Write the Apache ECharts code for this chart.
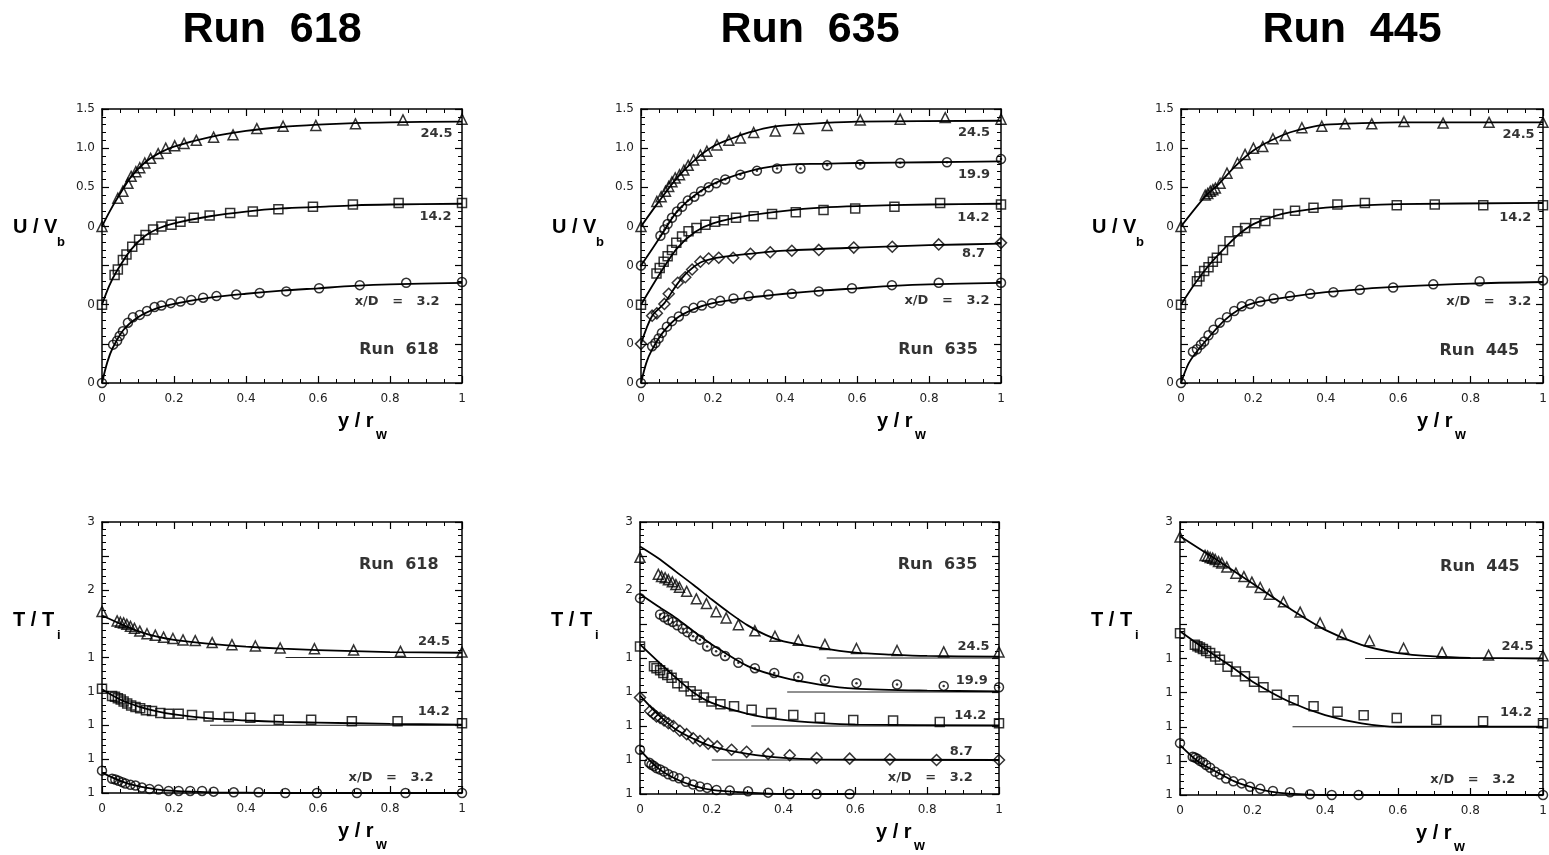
<!DOCTYPE html>
<html>
<head>
<meta charset="utf-8">
<script src="https://cdn.jsdelivr.net/npm/echarts/dist/echarts.min.js"></script>
<style>
  html, body { margin: 0; padding: 0; background: #fff; }
  #chart { width: 1549px; height: 855px; }
</style>
</head>
<body>
<div id="chart"></div>
<script>
/* Perfiles de velocidad (U/Vb) y temperatura (T/Ti) para las corridas 618, 635 y 445 */

// Etiquetas de ejes
const xTickLabels = ['0', '0.2', '0.4', '0.6', '0.8', '1'];
const uTickLabels3 = ['0', '', '0', '', '0', '0.5', '1.0', '1.5'];
const uTickLabels5 = ['0', '0', '0', '0', '0', '0.5', '1.0', '1.5'];
const tTickLabels = ['1', '1', '1', '1', '1', '', '2', '', '3'];

// Estaciones x/D y desplazamiento vertical de cada perfil
const stations3 = ['3.2', '14.2', '24.5'];
const stations5 = ['3.2', '8.7', '14.2', '19.9', '24.5'];
const offsets3 = [0, 1, 2];
const offsets5 = [0, 0.5, 1, 1.5, 2];

// Inicio (y/rw) de la linea de referencia T/Ti = 1
const tBase618 = [null, 0.3, 0.51];
const tBase635 = [null, 0.2, 0.31, 0.41, 0.52];
const tBase445 = [null, 0.31, 0.51];

// ---- Run 618, U/Vb ----
const r618U_32 = [[0,0],[0.031,0.49],[0.042,0.54],[0.049,0.60],[0.058,0.66],[0.072,0.77],[0.086,0.84],[0.105,0.87],[0.125,0.92],[0.146,0.97],[0.165,0.99],[0.191,1.02],[0.218,1.04],[0.248,1.06],[0.281,1.09],[0.318,1.11],[0.373,1.13],[0.438,1.15],[0.512,1.17],[0.603,1.21],[0.716,1.25],[0.845,1.28],[1.0,1.29]];
const r618U_32fit = [[0,0],[0.015,0.27],[0.03,0.45],[0.06,0.68],[0.1,0.84],[0.15,0.95],[0.2,1.01],[0.3,1.09],[0.4,1.14],[0.5,1.18],[0.6,1.21],[0.7,1.24],[0.8,1.26],[1.0,1.28]];
const r618U_142 = [[0,0],[0.035,0.38],[0.044,0.45],[0.058,0.57],[0.068,0.64],[0.084,0.74],[0.103,0.83],[0.121,0.89],[0.142,0.96],[0.165,1.00],[0.193,1.02],[0.218,1.06],[0.255,1.11],[0.299,1.14],[0.356,1.17],[0.419,1.19],[0.49,1.22],[0.586,1.25],[0.697,1.28],[0.824,1.30],[1.0,1.30]];
const r618U_142fit = [[0,0],[0.02,0.24],[0.04,0.42],[0.08,0.70],[0.12,0.88],[0.16,0.98],[0.2,1.04],[0.3,1.13],[0.4,1.19],[0.5,1.23],[0.6,1.25],[0.7,1.27],[0.8,1.28],[1.0,1.29]];
const r618U_245 = [[0,0],[0.044,0.36],[0.058,0.45],[0.072,0.55],[0.081,0.64],[0.094,0.70],[0.105,0.75],[0.119,0.81],[0.135,0.87],[0.156,0.93],[0.177,1.00],[0.202,1.03],[0.228,1.06],[0.262,1.10],[0.31,1.14],[0.364,1.17],[0.43,1.25],[0.503,1.28],[0.594,1.29],[0.704,1.31],[0.836,1.36],[1.0,1.37]];
const r618U_245fit = [[0,0],[0.02,0.18],[0.04,0.34],[0.08,0.63],[0.12,0.82],[0.16,0.94],[0.2,1.02],[0.3,1.14],[0.4,1.22],[0.5,1.27],[0.6,1.30],[0.7,1.32],[0.8,1.33],[1.0,1.34]];

// ---- Run 635, U/Vb ----
const r635U_32 = [[0,0],[0.031,0.47],[0.04,0.51],[0.049,0.57],[0.058,0.64],[0.072,0.72],[0.086,0.79],[0.105,0.85],[0.123,0.92],[0.146,0.96],[0.169,0.99],[0.197,1.02],[0.22,1.05],[0.257,1.08],[0.299,1.11],[0.354,1.13],[0.419,1.14],[0.494,1.17],[0.586,1.21],[0.697,1.25],[0.827,1.28],[1.0,1.28]];
const r635U_32fit = [[0,0],[0.015,0.26],[0.03,0.42],[0.06,0.64],[0.1,0.83],[0.15,0.95],[0.2,1.02],[0.3,1.09],[0.4,1.14],[0.5,1.18],[0.6,1.21],[0.7,1.24],[0.8,1.26],[1.0,1.28]];
const r635U_87 = [[0,0],[0.031,0.36],[0.044,0.39],[0.065,0.51],[0.077,0.64],[0.102,0.78],[0.123,0.85],[0.142,0.95],[0.165,1.05],[0.188,1.09],[0.216,1.10],[0.256,1.10],[0.304,1.15],[0.359,1.17],[0.419,1.19],[0.494,1.20],[0.591,1.23],[0.698,1.24],[0.827,1.27],[1.0,1.29]];
const r635U_87fit = [[0,0],[0.03,0.35],[0.065,0.52],[0.1,0.76],[0.13,0.92],[0.165,1.04],[0.2,1.09],[0.26,1.13],[0.3,1.15],[0.4,1.19],[0.6,1.23],[0.8,1.26],[1.0,1.28]];
const r635U_142 = [[0,0],[0.043,0.40],[0.052,0.47],[0.063,0.55],[0.074,0.62],[0.086,0.70],[0.098,0.79],[0.114,0.87],[0.132,0.94],[0.154,0.98],[0.179,1.02],[0.206,1.06],[0.23,1.08],[0.264,1.11],[0.313,1.13],[0.364,1.16],[0.43,1.18],[0.507,1.21],[0.595,1.23],[0.704,1.25],[0.831,1.30],[1.0,1.28]];
const r635U_142fit = [[0,0],[0.05,0.38],[0.1,0.72],[0.15,0.93],[0.2,1.04],[0.3,1.14],[0.4,1.20],[0.5,1.24],[0.6,1.26],[0.8,1.28],[1.0,1.29]];
const r635U_199 = [[0,0],[0.054,0.38],[0.065,0.46],[0.074,0.53],[0.086,0.61],[0.1,0.69],[0.114,0.75],[0.13,0.83],[0.148,0.88],[0.167,0.95],[0.188,1.00],[0.209,1.05],[0.234,1.10],[0.276,1.16],[0.322,1.21],[0.378,1.24],[0.443,1.24],[0.517,1.28],[0.609,1.29],[0.72,1.31],[0.85,1.32],[1.0,1.36]];
const r635U_199fit = [[0,0],[0.054,0.37],[0.1,0.69],[0.165,0.95],[0.23,1.10],[0.32,1.23],[0.41,1.29],[0.5,1.30],[0.6,1.31],[0.8,1.32],[1.0,1.33]];
const r635U_245 = [[0,0],[0.044,0.32],[0.056,0.38],[0.068,0.45],[0.077,0.51],[0.086,0.57],[0.095,0.62],[0.107,0.66],[0.119,0.72],[0.131,0.78],[0.146,0.85],[0.165,0.91],[0.183,0.96],[0.211,1.04],[0.244,1.10],[0.276,1.13],[0.313,1.20],[0.373,1.22],[0.438,1.25],[0.517,1.29],[0.609,1.36],[0.72,1.37],[0.845,1.39],[1.0,1.37]];
const r635U_245fit = [[0,0],[0.05,0.32],[0.1,0.62],[0.15,0.85],[0.2,1.02],[0.25,1.12],[0.3,1.20],[0.35,1.26],[0.4,1.29],[0.5,1.32],[0.6,1.34],[1.0,1.35]];

// ---- Run 445, U/Vb ----
const r445U_32 = [[0,0],[0.033,0.40],[0.044,0.43],[0.055,0.49],[0.064,0.53],[0.076,0.61],[0.09,0.68],[0.107,0.77],[0.127,0.84],[0.147,0.92],[0.168,0.98],[0.191,1.01],[0.219,1.04],[0.256,1.08],[0.301,1.11],[0.357,1.14],[0.421,1.16],[0.494,1.19],[0.586,1.22],[0.697,1.26],[0.825,1.30],[1.0,1.31]];
const r445U_32fit = [[0,0],[0.02,0.24],[0.04,0.38],[0.08,0.60],[0.12,0.80],[0.16,0.94],[0.2,1.02],[0.3,1.10],[0.4,1.16],[0.5,1.20],[0.6,1.23],[0.8,1.27],[1.0,1.29]];
const r445U_142 = [[0,0],[0.044,0.30],[0.051,0.36],[0.064,0.43],[0.076,0.48],[0.088,0.55],[0.099,0.60],[0.116,0.70],[0.134,0.81],[0.156,0.94],[0.177,0.98],[0.205,1.04],[0.233,1.07],[0.269,1.16],[0.315,1.20],[0.366,1.24],[0.432,1.28],[0.508,1.30],[0.596,1.27],[0.701,1.28],[0.835,1.27],[1.0,1.27]];
const r445U_142fit = [[0,0],[0.04,0.28],[0.08,0.52],[0.12,0.72],[0.16,0.90],[0.2,1.03],[0.25,1.12],[0.3,1.18],[0.4,1.24],[0.5,1.27],[0.6,1.285],[1.0,1.30]];
const r445U_245 = [[0,0],[0.067,0.40],[0.074,0.42],[0.081,0.45],[0.088,0.47],[0.095,0.49],[0.108,0.55],[0.127,0.68],[0.156,0.81],[0.177,0.92],[0.2,1.00],[0.226,1.02],[0.254,1.12],[0.288,1.16],[0.334,1.26],[0.389,1.28],[0.453,1.31],[0.527,1.31],[0.616,1.34],[0.724,1.32],[0.851,1.33],[1.0,1.33]];
const r445U_245fit = [[0,0],[0.07,0.40],[0.1,0.52],[0.15,0.77],[0.2,0.97],[0.25,1.10],[0.3,1.20],[0.35,1.26],[0.4,1.30],[0.5,1.32],[0.6,1.33],[1.0,1.33]];

// ---- Run 618, T/Ti ----
const r618T_32 = [[0,1.33],[0.028,1.21],[0.037,1.20],[0.046,1.18],[0.056,1.16],[0.065,1.14],[0.079,1.12],[0.093,1.11],[0.111,1.08],[0.132,1.06],[0.157,1.05],[0.185,1.03],[0.213,1.03],[0.245,1.03],[0.278,1.03],[0.31,1.02],[0.366,1.01],[0.435,1.01],[0.509,1.0],[0.597,1.0],[0.708,1.0],[0.843,1.0],[1.0,1.0]];
const r618T_32fit = [[0,1.30],[0.05,1.18],[0.1,1.10],[0.15,1.055],[0.2,1.03],[0.3,1.01],[0.4,1.005],[0.5,1.0],[1.0,1.0]];
const r618T_142 = [[0,1.54],[0.028,1.43],[0.036,1.42],[0.044,1.40],[0.052,1.38],[0.06,1.35],[0.07,1.32],[0.081,1.29],[0.093,1.27],[0.106,1.25],[0.122,1.22],[0.139,1.21],[0.162,1.18],[0.185,1.17],[0.213,1.17],[0.25,1.15],[0.296,1.13],[0.352,1.12],[0.412,1.11],[0.491,1.08],[0.581,1.08],[0.694,1.06],[0.821,1.06],[1.0,1.03]];
const r618T_142fit = [[0,1.53],[0.05,1.38],[0.1,1.28],[0.15,1.21],[0.2,1.16],[0.3,1.10],[0.4,1.07],[0.5,1.05],[0.6,1.04],[0.8,1.02],[1.0,1.01]];
const r618T_245 = [[0,1.68],[0.042,1.54],[0.051,1.52],[0.06,1.51],[0.069,1.49],[0.079,1.46],[0.09,1.43],[0.105,1.39],[0.125,1.35],[0.148,1.33],[0.171,1.30],[0.197,1.28],[0.225,1.26],[0.259,1.25],[0.306,1.22],[0.361,1.19],[0.426,1.17],[0.495,1.14],[0.59,1.13],[0.699,1.11],[0.829,1.09],[1.0,1.08]];
const r618T_245fit = [[0,1.62],[0.05,1.50],[0.1,1.39],[0.15,1.31],[0.2,1.26],[0.3,1.20],[0.4,1.16],[0.5,1.13],[0.6,1.11],[0.8,1.08],[1.0,1.07]];

// ---- Run 635, T/Ti ----
const r635T_32 = [[0,1.65],[0.026,1.46],[0.032,1.43],[0.039,1.41],[0.046,1.38],[0.056,1.36],[0.067,1.33],[0.079,1.29],[0.093,1.26],[0.109,1.23],[0.128,1.18],[0.148,1.14],[0.167,1.11],[0.187,1.09],[0.213,1.06],[0.25,1.05],[0.301,1.04],[0.357,1.02],[0.417,1.0],[0.492,1.0],[0.584,1.0]];
const r635T_32fit = [[0,1.65],[0.05,1.38],[0.1,1.22],[0.15,1.12],[0.2,1.06],[0.3,1.02],[0.4,1.0],[0.6,1.0]];
const r635T_87 = [[0,1.92],[0.028,1.72],[0.037,1.68],[0.046,1.64],[0.056,1.62],[0.067,1.58],[0.079,1.54],[0.093,1.50],[0.111,1.43],[0.13,1.38],[0.148,1.32],[0.167,1.28],[0.19,1.24],[0.215,1.20],[0.255,1.15],[0.297,1.12],[0.357,1.09],[0.417,1.07],[0.492,1.03],[0.584,1.02],[0.696,1.01],[0.826,1.0],[1.0,1.0]];
const r635T_87fit = [[0,1.95],[0.05,1.67],[0.1,1.45],[0.15,1.31],[0.2,1.20],[0.3,1.09],[0.4,1.03],[0.5,1.01],[1.0,1.0]];
const r635T_142 = [[0,2.17],[0.039,1.88],[0.046,1.85],[0.056,1.82],[0.065,1.78],[0.076,1.75],[0.088,1.71],[0.104,1.63],[0.122,1.58],[0.141,1.51],[0.158,1.46],[0.178,1.42],[0.199,1.36],[0.224,1.32],[0.262,1.29],[0.311,1.24],[0.366,1.19],[0.427,1.16],[0.501,1.12],[0.594,1.09],[0.705,1.08],[0.835,1.06],[1.0,1.04]];
const r635T_142fit = [[0,2.2],[0.05,1.95],[0.1,1.71],[0.15,1.49],[0.2,1.34],[0.3,1.18],[0.4,1.09],[0.5,1.045],[0.6,1.02],[1.0,1.01]];
const r635T_199 = [[0,2.38],[0.056,2.14],[0.067,2.10],[0.079,2.06],[0.091,2.03],[0.104,1.98],[0.119,1.93],[0.132,1.88],[0.148,1.82],[0.167,1.77],[0.187,1.67],[0.212,1.60],[0.237,1.53],[0.274,1.43],[0.32,1.35],[0.374,1.28],[0.441,1.22],[0.515,1.18],[0.603,1.13],[0.716,1.11],[0.846,1.09],[1.0,1.07]];
const r635T_199fit = [[0,2.44],[0.05,2.26],[0.1,2.09],[0.15,1.89],[0.2,1.70],[0.3,1.38],[0.4,1.21],[0.5,1.11],[0.6,1.05],[0.8,1.02],[1.0,1.01]];
const r635T_245 = [[0,2.48],[0.051,2.23],[0.06,2.20],[0.07,2.18],[0.079,2.15],[0.09,2.12],[0.1,2.08],[0.11,2.04],[0.13,1.98],[0.157,1.87],[0.185,1.80],[0.212,1.68],[0.24,1.59],[0.274,1.49],[0.32,1.40],[0.376,1.32],[0.441,1.26],[0.515,1.20],[0.603,1.14],[0.716,1.11],[0.846,1.09],[1.0,1.09]];
const r635T_245fit = [[0,2.64],[0.05,2.47],[0.1,2.27],[0.15,2.07],[0.2,1.86],[0.25,1.66],[0.3,1.48],[0.35,1.34],[0.4,1.245],[0.5,1.15],[0.6,1.08],[0.7,1.05],[0.8,1.03],[1.0,1.02]];

// ---- Run 445, T/Ti ----
const r445T_32 = [[0,1.76],[0.035,1.56],[0.041,1.55],[0.048,1.53],[0.055,1.50],[0.063,1.48],[0.072,1.44],[0.083,1.40],[0.097,1.34],[0.11,1.30],[0.127,1.24],[0.147,1.20],[0.17,1.17],[0.193,1.12],[0.221,1.09],[0.256,1.06],[0.303,1.04],[0.358,1.01],[0.418,1.0],[0.492,1.0],[1.0,1.0]];
const r445T_32fit = [[0,1.73],[0.05,1.49],[0.1,1.34],[0.15,1.20],[0.2,1.11],[0.25,1.05],[0.3,1.02],[0.4,1.0],[1.0,1.0]];
const r445T_142 = [[0,2.37],[0.041,2.20],[0.048,2.18],[0.055,2.16],[0.063,2.14],[0.072,2.11],[0.083,2.08],[0.097,2.03],[0.11,1.98],[0.131,1.88],[0.154,1.81],[0.179,1.74],[0.204,1.66],[0.23,1.58],[0.267,1.47],[0.313,1.39],[0.368,1.30],[0.434,1.22],[0.506,1.17],[0.597,1.13],[0.706,1.10],[0.835,1.08],[1.0,1.05]];
const r445T_142fit = [[0,2.40],[0.05,2.21],[0.1,2.03],[0.15,1.85],[0.2,1.66],[0.3,1.37],[0.4,1.17],[0.5,1.05],[0.6,1.0],[1.0,1.0]];
const r445T_245 = [[0,2.78],[0.069,2.51],[0.076,2.50],[0.083,2.48],[0.09,2.47],[0.097,2.45],[0.106,2.42],[0.115,2.40],[0.129,2.34],[0.154,2.25],[0.176,2.20],[0.198,2.12],[0.221,2.04],[0.246,1.94],[0.285,1.83],[0.331,1.68],[0.386,1.52],[0.446,1.35],[0.522,1.26],[0.616,1.15],[0.722,1.09],[0.85,1.05],[1.0,1.04]];
const r445T_245fit = [[0,2.79],[0.1,2.45],[0.2,2.10],[0.3,1.74],[0.4,1.42],[0.5,1.20],[0.6,1.08],[0.7,1.03],[0.8,1.01],[1.0,1.0]];

// Simbolos por estacion
const markers = {
    '3.2':  { symbol: 'circle', size: 9 },
    '8.7':  { symbol: 'diamond', size: 11 },
    '14.2': { symbol: 'rect', size: 9 },
    '19.9': { symbol: 'circle', size: 9, dot: true },
    '24.5': { symbol: 'triangle', size: 10 }
};

// Paneles: caja de la grilla [left, top, width, height] y anotaciones [texto, x, y]
const panels = [
    { box: [102, 109, 360, 274], kind: 'U', run: '618', stations: stations3, offsets: offsets3, ticks: uTickLabels3,
      pts: [r618U_32, r618U_142, r618U_245], fits: [r618U_32fit, r618U_142fit, r618U_245fit],
      notes: [['24.5', 0.974, 3.19], ['14.2', 0.971, 2.12], ['x/D   =   3.2', 0.938, 1.04]], runAt: [0.936, 0.425] },
    { box: [641, 109, 360, 274], kind: 'U', run: '635', stations: stations5, offsets: offsets5, ticks: uTickLabels5,
      pts: [r635U_32, r635U_87, r635U_142, r635U_199, r635U_245], fits: [r635U_32fit, r635U_87fit, r635U_142fit, r635U_199fit, r635U_245fit],
      notes: [['24.5', 0.97, 3.196], ['19.9', 0.97, 2.657], ['14.2', 0.968, 2.112], ['8.7', 0.956, 1.658], ['x/D   =   3.2', 0.968, 1.05]], runAt: [0.936, 0.425] },
    { box: [1181, 109, 362, 274], kind: 'U', run: '445', stations: stations3, offsets: offsets3, ticks: uTickLabels3,
      pts: [r445U_32, r445U_142, r445U_245], fits: [r445U_32fit, r445U_142fit, r445U_245fit],
      notes: [['24.5', 0.977, 3.176], ['14.2', 0.968, 2.112], ['x/D   =   3.2', 0.968, 1.04]], runAt: [0.934, 0.412] },
    { box: [102, 522, 360, 271], kind: 'T', run: '618', stations: stations3, offsets: offsets3, ticks: tTickLabels, base: tBase618,
      pts: [r618T_32, r618T_142, r618T_245], fits: [r618T_32fit, r618T_142fit, r618T_245fit],
      notes: [['24.5', 0.967, 2.24], ['14.2', 0.966, 1.20], ['x/D   =   3.2', 0.921, 0.22]], runAt: [0.935, 3.37] },
    { box: [640, 522, 359, 272], kind: 'T', run: '635', stations: stations5, offsets: offsets5, ticks: tTickLabels, base: tBase635,
      pts: [r635T_32, r635T_87, r635T_142, r635T_199, r635T_245], fits: [r635T_32fit, r635T_87fit, r635T_142fit, r635T_199fit, r635T_245fit],
      notes: [['24.5', 0.974, 2.17], ['19.9', 0.969, 1.67], ['14.2', 0.965, 1.156], ['8.7', 0.927, 0.626], ['x/D   =   3.2', 0.927, 0.235]], runAt: [0.94, 3.37] },
    { box: [1180, 522, 363, 273], kind: 'T', run: '445', stations: stations3, offsets: offsets3, ticks: tTickLabels, base: tBase445,
      pts: [r445T_32, r445T_142, r445T_245], fits: [r445T_32fit, r445T_142fit, r445T_245fit],
      notes: [['24.5', 0.974, 2.17], ['14.2', 0.97, 1.2], ['x/D   =   3.2', 0.924, 0.22]], runAt: [0.936, 3.35] }
];

const black = '#000';
const tickFont = { fontFamily: 'DejaVu Sans', fontSize: 12, color: '#222' };

// Posicion en el eje: U/Vb + desplazamiento, o T/Ti - 1 + desplazamiento
function shift(kind, v, off) {
    return kind === 'U' ? v + off : v - 1 + off;
}

function xAxisCfg(g, position) {
    const main = position === 'bottom';
    return {
        gridIndex: g, type: 'value', position: position, min: 0, max: 1, interval: 0.2,
        axisLine: { show: true, onZero: false, lineStyle: { color: black, width: 1.5 } },
        axisTick: { show: true, inside: true, length: 7, lineStyle: { color: black, width: 1.2 } },
        minorTick: { show: true, splitNumber: 4, length: 4, lineStyle: { color: black, width: 1 } },
        splitLine: { show: false },
        axisLabel: {
            show: main, margin: 10, showMinLabel: true, showMaxLabel: true, ...tickFont,
            formatter: v => xTickLabels[Math.round(v / 0.2)]
        }
    };
}

function yAxisCfg(g, position, p) {
    const main = position === 'left';
    return {
        gridIndex: g, type: 'value', position: position, min: 0, max: p.kind === 'U' ? 3.5 : 4, interval: 0.5,
        axisLine: { show: true, onZero: false, lineStyle: { color: black, width: 1.5 } },
        axisTick: { show: true, inside: true, length: 7, lineStyle: { color: black, width: 1.2 } },
        minorTick: { show: true, splitNumber: 5, length: 4, lineStyle: { color: black, width: 1 } },
        splitLine: { show: false },
        axisLabel: {
            show: main, margin: 7, showMinLabel: true, showMaxLabel: true, ...tickFont,
            formatter: v => p.ticks[Math.round(v / 0.5)] || ''
        }
    };
}

const option = {
    animation: false,
    backgroundColor: '#fff',
    grid: [], xAxis: [], yAxis: [], series: [], graphic: []
};

// Ejes: principales en indices 0..5, espejos (arriba / derecha) en 6..11
panels.forEach((p, g) => {
    option.grid.push({ left: p.box[0], top: p.box[1], width: p.box[2], height: p.box[3], outerBoundsMode: 'none' });
    option.xAxis[g] = xAxisCfg(g, 'bottom');
    option.xAxis[g + 6] = xAxisCfg(g, 'top');
    option.yAxis[g] = yAxisCfg(g, 'left', p);
    option.yAxis[g + 6] = yAxisCfg(g, 'right', p);
});

panels.forEach((p, g) => {
    p.stations.forEach((st, i) => {
        const off = p.offsets[i];
        const mk = markers[st];

        // Linea de referencia T/Ti = 1
        if (p.base && p.base[i] != null) {
            option.series.push({
                type: 'line', xAxisIndex: g, yAxisIndex: g, silent: true, symbol: 'none',
                data: [[p.base[i], off], [1, off]],
                lineStyle: { color: '#222', width: 1 }, z: 1
            });
        }

        // Curva calculada
        option.series.push({
            type: 'line', xAxisIndex: g, yAxisIndex: g, silent: true, symbol: 'none',
            smooth: 0.3,
            data: p.fits[i].map(d => [d[0], shift(p.kind, d[1], off)]),
            lineStyle: { color: black, width: 1.8 }, z: 2
        });

        // Datos medidos
        const pts = p.pts[i].map(d => [d[0], shift(p.kind, d[1], off)]);
        option.series.push({
            type: 'scatter', xAxisIndex: g, yAxisIndex: g, silent: true,
            symbol: mk.symbol, symbolSize: mk.size, data: pts,
            itemStyle: { color: 'rgba(0,0,0,0)', borderColor: black, borderWidth: 1.5 }, z: 3
        });
        if (mk.dot) {
            option.series.push({
                type: 'scatter', xAxisIndex: g, yAxisIndex: g, silent: true,
                symbol: 'circle', symbolSize: 2.5, data: pts,
                itemStyle: { color: black }, z: 3
            });
        }
    });

    // Anotaciones de estacion
    option.series.push({
        type: 'scatter', xAxisIndex: g, yAxisIndex: g, silent: true, symbolSize: 0.1,
        data: p.notes.map(n => [n[1], n[2], n[0]]),
        itemStyle: { color: 'rgba(0,0,0,0)' },
        label: {
            show: true, position: 'left', distance: 0, formatter: q => q.value[2],
            fontFamily: 'DejaVu Sans', fontWeight: 'bold', fontSize: 13, color: black
        }, z: 4
    });
    option.series.push({
        type: 'scatter', xAxisIndex: g, yAxisIndex: g, silent: true, symbolSize: 0.1,
        data: [[p.runAt[0], p.runAt[1], 'Run  ' + p.run]],
        itemStyle: { color: 'rgba(0,0,0,0)' },
        label: {
            show: true, position: 'left', distance: 0, formatter: q => q.value[2],
            fontFamily: 'DejaVu Sans', fontWeight: 'bold', fontSize: 16, color: black
        }, z: 4
    });

    // Nombres de ejes
    const [l, t, w, h] = p.box;
    const bottom = t + h;
    const nameFont = { fontFamily: 'Liberation Sans', fontWeight: 'bold', fill: black };
    const yMain = p.kind === 'U' ? 'U / V' : 'T / T';
    const ySub = p.kind === 'U' ? 'b' : 'i';
    const yMid = p.kind === 'U' ? t + 118 : t + 98;
    option.graphic.push(
        { type: 'text', x: l - 89, y: yMid, style: { text: yMain, fontSize: 20, textAlign: 'left', textVerticalAlign: 'middle', ...nameFont } },
        { type: 'text', x: l - 45, y: yMid + 15, style: { text: ySub, fontSize: 13, textAlign: 'left', textVerticalAlign: 'middle', ...nameFont } },
        { type: 'text', x: l + 236, y: bottom + 38, style: { text: 'y / r', fontSize: 20, textAlign: 'left', textVerticalAlign: 'middle', ...nameFont } },
        { type: 'text', x: l + 274, y: bottom + 52, style: { text: 'w', fontSize: 14, textAlign: 'left', textVerticalAlign: 'middle', ...nameFont } }
    );
});

// Titulos grandes de cada columna
[[272, 'Run  618'], [810, 'Run  635'], [1352, 'Run  445']].forEach(([cx, txt]) => {
    option.graphic.push({
        type: 'text', x: cx, y: 30,
        style: { text: txt, fontFamily: 'Liberation Sans', fontWeight: 'bold', fontSize: 43,
                 fill: black, textAlign: 'center', textVerticalAlign: 'middle' }
    });
});

const chart = echarts.init(document.getElementById('chart'), null, { renderer: 'canvas' });
chart.setOption(option);
</script>
</body>
</html>
